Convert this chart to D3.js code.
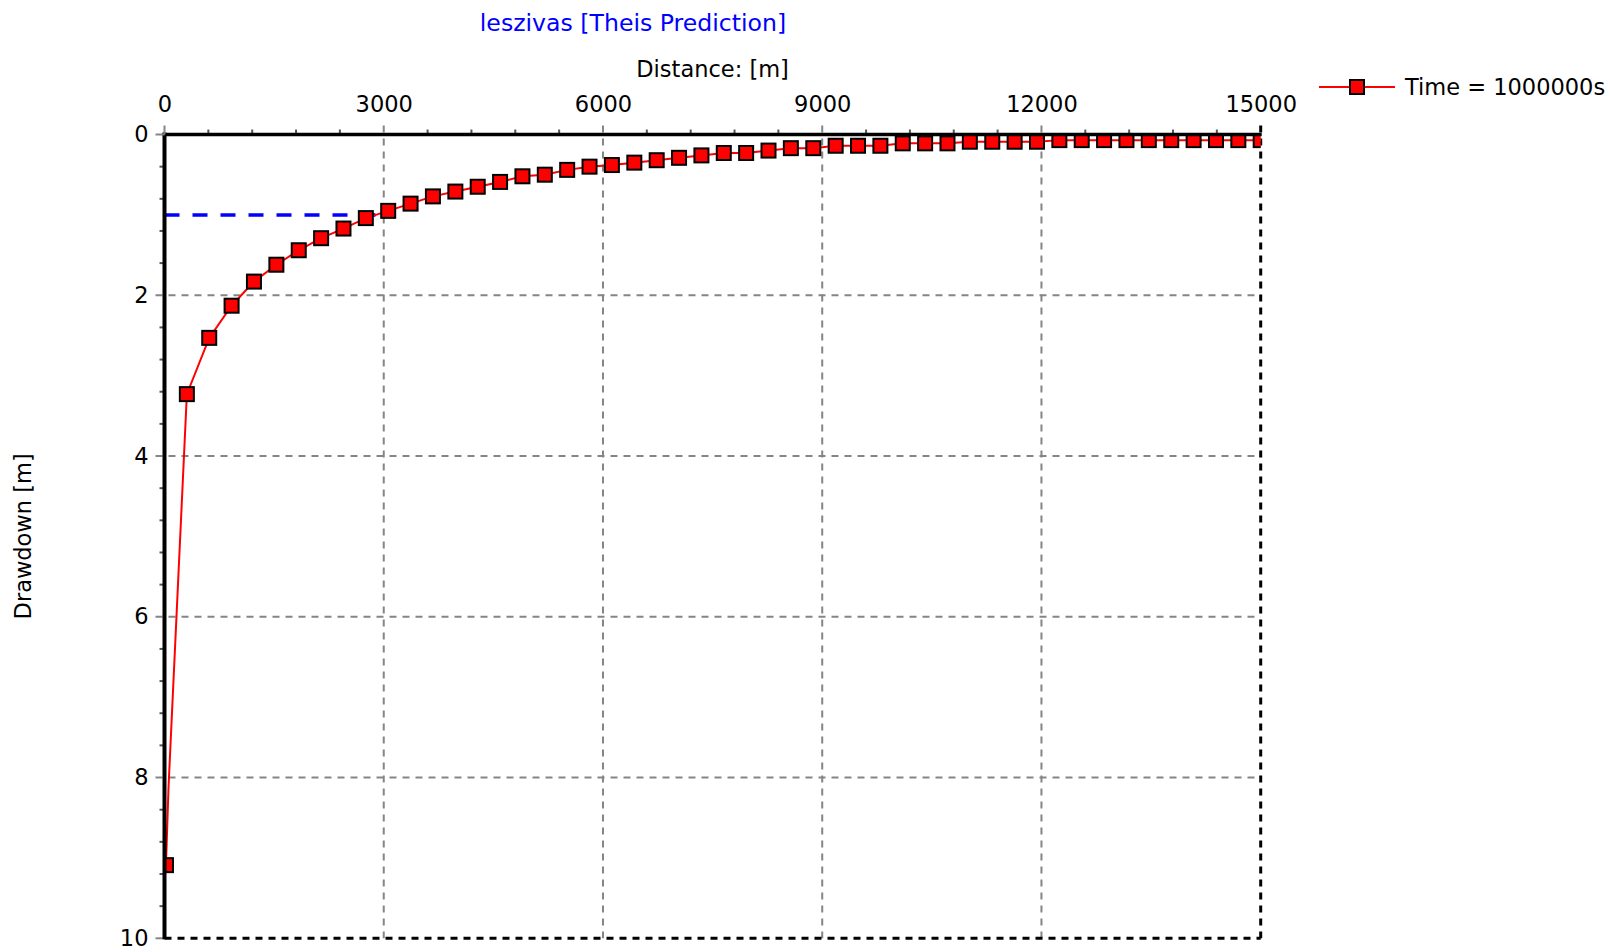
<!DOCTYPE html>
<html>
<head>
<meta charset="utf-8">
<script src="https://cdn.jsdelivr.net/npm/d3@7"></script>
<style>
  body { margin: 0; background: #fff; }
  svg text { font-family: "DejaVu Sans", sans-serif; }
</style>
</head>
<body>
<div id="chart"></div>
<script>
// tick values
const xTicks = [0, 3000, 6000, 9000, 12000, 15000];
const yTicks = [0, 2, 4, 6, 8, 10];
const xMinor = [600, 1200, 1800, 2400, 3600, 4200, 4800, 5400, 6600, 7200, 7800, 8400,
  9600, 10200, 10800, 11400, 12600, 13200, 13800, 14400];
const yMinor = [0.4, 0.8, 1.2, 1.6, 2.4, 2.8, 3.2, 3.6, 4.4, 4.8, 5.2, 5.6,
  6.4, 6.8, 7.2, 7.6, 8.4, 8.8, 9.2, 9.6];

// Time = 1000000s series (markers)
const distance = [20, 306, 612, 918, 1224, 1531, 1837, 2143, 2449, 2755,
  3061, 3367, 3673, 3980, 4286, 4592, 4898, 5204, 5510, 5816,
  6122, 6429, 6735, 7041, 7347, 7653, 7959, 8265, 8571, 8878,
  9184, 9490, 9796, 10102, 10408, 10714, 11020, 11327, 11633, 11939,
  12245, 12551, 12857, 13163, 13469, 13776, 14082, 14388, 14694, 15000];
const drawdown = [9.09, 3.23, 2.53, 2.13, 1.83, 1.62, 1.44, 1.29, 1.17, 1.04,
  0.95, 0.86, 0.77, 0.71, 0.65, 0.59, 0.52, 0.50, 0.44, 0.40,
  0.38, 0.35, 0.32, 0.29, 0.26, 0.23, 0.23, 0.20, 0.17, 0.17,
  0.14, 0.14, 0.14, 0.11, 0.11, 0.11, 0.09, 0.09, 0.09, 0.09,
  0.07, 0.07, 0.07, 0.07, 0.07, 0.07, 0.07, 0.07, 0.07, 0.07];
// extra vertex of the red line near the well (no marker there)
const bendDistance = [55];
const bendDrawdown = [8.12];

// 1 m drawdown reference line
const refDrawdown = 1;
const refDistance = [0, 2890];

const W = 1610, H = 952;
const x = d3.scaleLinear().domain([0, 15000]).range([164.5, 1260.7]);
const y = d3.scaleLinear().domain([0, 10]).range([134.5, 938.3]);
const fs = 22.5;

const svg = d3.select("#chart").append("svg")
  .attr("width", W).attr("height", H);

svg.append("defs").append("clipPath").attr("id", "plot")
  .append("rect")
  .attr("x", x(0)).attr("y", y(0))
  .attr("width", x(15000) - x(0)).attr("height", y(10) - y(0));

// grid (major ticks stick out of the axes)
svg.append("g").selectAll("line").data(xTicks.slice(1, -1)).join("line")
  .attr("x1", d => x(d)).attr("x2", d => x(d))
  .attr("y1", y(0) - 9).attr("y2", y(10))
  .attr("stroke", "#858585").attr("stroke-width", 2).attr("stroke-dasharray", "7,6");
svg.append("g").selectAll("line").data(yTicks.slice(1, -1)).join("line")
  .attr("x1", x(0) - 9).attr("x2", x(15000))
  .attr("y1", d => y(d)).attr("y2", d => y(d))
  .attr("stroke", "#858585").attr("stroke-width", 2).attr("stroke-dasharray", "7,6");

// minor ticks
svg.append("g").selectAll("line").data(xMinor).join("line")
  .attr("x1", d => x(d)).attr("x2", d => x(d))
  .attr("y1", y(0) - 5).attr("y2", y(0))
  .attr("stroke", "#555").attr("stroke-width", 2);
svg.append("g").selectAll("line").data(yMinor).join("line")
  .attr("x1", x(0) - 5).attr("x2", x(0))
  .attr("y1", d => y(d)).attr("y2", d => y(d))
  .attr("stroke", "#555").attr("stroke-width", 2);

// frame: right + bottom dashed
svg.append("line")
  .attr("x1", x(15000)).attr("x2", x(15000)).attr("y1", y(0) - 9).attr("y2", y(10))
  .attr("stroke", "#000").attr("stroke-width", 3).attr("stroke-dasharray", "7,6");
svg.append("line")
  .attr("x1", x(0)).attr("x2", x(15000)).attr("y1", y(10)).attr("y2", y(10))
  .attr("stroke", "#000").attr("stroke-width", 3).attr("stroke-dasharray", "7,6");
svg.append("line")
  .attr("x1", x(0)).attr("x2", x(0) - 9).attr("y1", y(10)).attr("y2", y(10))
  .attr("stroke", "#858585").attr("stroke-width", 2);

// reference line
svg.append("line")
  .attr("x1", x(refDistance[0])).attr("x2", x(refDistance[1]))
  .attr("y1", y(refDrawdown)).attr("y2", y(refDrawdown))
  .attr("stroke", "#0000ff").attr("stroke-width", 3.5).attr("stroke-dasharray", "15,13");

// series
const pts = distance.map((d, i) => [d, drawdown[i]]);
const linePts = pts.concat(bendDistance.map((d, i) => [d, bendDrawdown[i]]))
  .sort((a, b) => a[0] - b[0]);

const plot = svg.append("g").attr("clip-path", "url(#plot)");
plot.append("path")
  .datum(linePts)
  .attr("d", d3.line().x(d => x(d[0])).y(d => y(d[1])))
  .attr("fill", "none").attr("stroke", "#ff0000").attr("stroke-width", 2);

const ms = 14;
plot.selectAll("rect.m").data(pts).join("rect")
  .attr("class", "m")
  .attr("x", d => x(d[0]) - ms / 2).attr("y", d => y(d[1]) - ms / 2)
  .attr("width", ms).attr("height", ms)
  .attr("fill", "#ff0000").attr("stroke", "#000").attr("stroke-width", 2);

// left + top axes (solid, on top)
svg.append("line")
  .attr("x1", x(0)).attr("x2", x(0)).attr("y1", y(0) - 2).attr("y2", y(10) + 1)
  .attr("stroke", "#000").attr("stroke-width", 4);
svg.append("line")
  .attr("x1", x(0) - 2).attr("x2", x(15000) + 1).attr("y1", y(0)).attr("y2", y(0))
  .attr("stroke", "#000").attr("stroke-width", 3.5);
svg.append("line")
  .attr("x1", x(0)).attr("x2", x(0)).attr("y1", y(0) - 9).attr("y2", y(0))
  .attr("stroke", "#858585").attr("stroke-width", 2);
svg.append("line")
  .attr("x1", x(0) - 9).attr("x2", x(0)).attr("y1", y(0)).attr("y2", y(0))
  .attr("stroke", "#858585").attr("stroke-width", 2);

// tick labels via d3 axes
const xAxis = svg.append("g").attr("transform", `translate(0,${y(0)})`)
  .call(d3.axisTop(x).tickValues(xTicks).tickFormat(d3.format("d")).tickSize(0).tickPadding(23));
const yAxis = svg.append("g").attr("transform", `translate(${x(0)},0)`)
  .call(d3.axisLeft(y).tickValues(yTicks).tickFormat(d3.format("d")).tickSize(0).tickPadding(16));
[xAxis, yAxis].forEach(g => {
  g.select(".domain").remove();
  g.selectAll("text").attr("font-family", "DejaVu Sans").attr("font-size", fs).attr("fill", "#000");
});

// titles
svg.append("text").attr("x", 633).attr("y", 31)
  .attr("text-anchor", "middle").attr("font-size", 23.6).attr("fill", "#0000ff")
  .text("leszivas [Theis Prediction]");
svg.append("text").attr("x", (x(0) + x(15000)) / 2).attr("y", 77)
  .attr("text-anchor", "middle").attr("font-size", fs).attr("fill", "#000")
  .text("Distance: [m]");
svg.append("text")
  .attr("transform", `translate(31,${(y(0) + y(10)) / 2}) rotate(-90)`)
  .attr("text-anchor", "middle").attr("font-size", fs).attr("fill", "#000")
  .text("Drawdown [m]");

// legend
const lg = svg.append("g").attr("transform", "translate(1319,87)");
lg.append("line").attr("x1", 0).attr("x2", 76).attr("y1", 0).attr("y2", 0)
  .attr("stroke", "#ff0000").attr("stroke-width", 2);
lg.append("rect").attr("x", 38 - ms / 2).attr("y", -ms / 2).attr("width", ms).attr("height", ms)
  .attr("fill", "#ff0000").attr("stroke", "#000").attr("stroke-width", 2);
lg.append("text").attr("x", 86).attr("y", 0).attr("dy", "0.35em")
  .attr("font-size", fs).attr("fill", "#000")
  .text("Time = 1000000s");
</script>
</body>
</html>
